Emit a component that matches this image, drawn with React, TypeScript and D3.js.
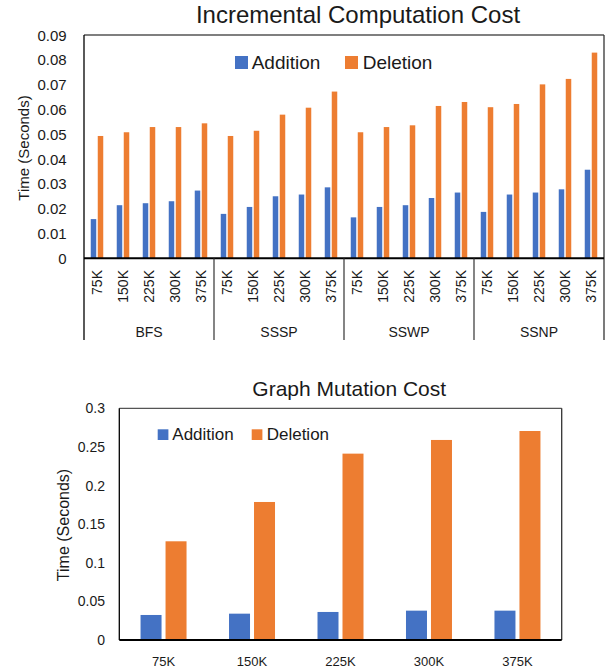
import React from "react"
import * as d3 from "d3"

// values
const groups = ["BFS", "SSSP", "SSWP", "SSNP"]
const sizes = ["75K", "150K", "225K", "300K", "375K"]
const series = ["Addition", "Deletion"]

// incremental computation cost, 5 sizes per algorithm (BFS, SSSP, SSWP, SSNP)
const incAddition = [
  0.0158, 0.0214, 0.0222, 0.023, 0.0273,
  0.0179, 0.0207, 0.025, 0.0257, 0.0286,
  0.0165, 0.0207, 0.0214, 0.0243, 0.0265,
  0.0187, 0.0257, 0.0265, 0.0278, 0.0357,
]
const incDeletion = [
  0.0493, 0.0508, 0.0529, 0.0529, 0.0544,
  0.0493, 0.0514, 0.0579, 0.0607, 0.0672,
  0.0508, 0.0529, 0.0536, 0.0614, 0.063,
  0.0609, 0.0622, 0.0701, 0.0723, 0.0829,
]
const incTicks = [0, 0.01, 0.02, 0.03, 0.04, 0.05, 0.06, 0.07, 0.08, 0.09]

// graph mutation cost
const mutAddition = [0.0324, 0.0341, 0.0363, 0.038, 0.038]
const mutDeletion = [0.1278, 0.1787, 0.2413, 0.259, 0.2706]
const mutTicks = [0, 0.05, 0.1, 0.15, 0.2, 0.25, 0.3]

const BLUE = "#4472C4"
const ORANGE = "#ED7D31"
const FONT = "'Liberation Sans', Arial, sans-serif"
const TXT = "#1a1a1a"

function IncrementalChart() {
  const m = { left: 84, right: 604, top: 35, bottom: 258.3 }
  const keys = groups.flatMap((g) => sizes.map((s) => `${g}-${s}`))
  const x = d3.scaleBand().domain(keys).range([m.left, m.right])
  const inner = d3
    .scaleBand()
    .domain(series)
    .range([0, x.bandwidth()])
    .paddingInner(0.214)
    .paddingOuter(0.964)
  const y = d3.scaleLinear().domain([0, 0.09]).range([m.bottom, m.top])
  const vals = [incAddition, incDeletion]
  const colors = [BLUE, ORANGE]

  return (
    <g fontFamily={FONT} fill={TXT}>
      <text x={358} y={23.3} fontSize={24} textAnchor="middle">
        Incremental Computation Cost
      </text>
      {/* box */}
      <line x1={m.left} x2={m.right} y1={m.top} y2={m.top} stroke="#555" strokeWidth={1.3} />
      <line x1={m.right} x2={m.right} y1={m.top} y2={340} stroke="#333" strokeWidth={1.3} />
      <line x1={m.left} x2={m.left} y1={m.top} y2={340} stroke="#000" strokeWidth={1.3} />
      {/* bars */}
      {series.map((s, si) =>
        keys.map((k, i) => (
          <rect
            key={s + k}
            x={(x(k) ?? 0) + (inner(s) ?? 0)}
            y={y(vals[si][i])}
            width={inner.bandwidth()}
            height={m.bottom - y(vals[si][i])}
            fill={colors[si]}
          />
        ))
      )}
      <line x1={m.left} x2={m.right} y1={m.bottom} y2={m.bottom} stroke="#000" strokeWidth={2} />
      {/* y ticks */}
      {incTicks.map((t) => (
        <text key={t} x={66.7} y={y(t)} fontSize={15} textAnchor="end" dominantBaseline="central">
          {t === 0 ? "0" : t.toFixed(2)}
        </text>
      ))}
      <text
        transform="translate(23,148) rotate(-90)"
        fontSize={15}
        textAnchor="middle"
        dominantBaseline="central"
      >
        Time (Seconds)
      </text>
      {/* size labels */}
      {keys.map((k) => (
        <text
          key={k}
          transform={`translate(${(x(k) ?? 0) + x.bandwidth() / 2},270) rotate(-90)`}
          fontSize={14}
          textAnchor="end"
          dominantBaseline="central"
        >
          {k.split("-")[1]}
        </text>
      ))}
      {/* group separators + labels */}
      {groups.map((g, gi) => {
        const x0 = x(`${g}-${sizes[0]}`) ?? 0
        const x1 = (x(`${g}-${sizes[sizes.length - 1]}`) ?? 0) + x.bandwidth()
        return (
          <g key={g}>
            {gi > 0 && <line x1={x0} x2={x0} y1={m.bottom} y2={340} stroke="#333" strokeWidth={1.2} />}
            <text x={(x0 + x1) / 2} y={331.7} fontSize={14} textAnchor="middle" dominantBaseline="central">
              {g}
            </text>
          </g>
        )
      })}
      {/* legend */}
      <rect x={235} y={56} width={13} height={13} fill={BLUE} />
      <text x={251.7} y={69} fontSize={19}>Addition</text>
      <rect x={345} y={56} width={13} height={13} fill={ORANGE} />
      <text x={362.7} y={69} fontSize={19}>Deletion</text>
    </g>
  )
}

function MutationChart() {
  const m = { left: 119.3, right: 561.7, top: 408.3, bottom: 640 }
  const x = d3.scaleBand().domain(sizes).range([m.left, m.right])
  const inner = d3
    .scaleBand()
    .domain(series)
    .range([0, x.bandwidth()])
    .paddingInner(0.16)
    .paddingOuter(0.85)
  const y = d3.scaleLinear().domain([0, 0.3]).range([m.bottom, m.top])
  const vals = [mutAddition, mutDeletion]
  const colors = [BLUE, ORANGE]

  return (
    <g fontFamily={FONT} fill={TXT}>
      <text x={349.2} y={395.7} fontSize={21} textAnchor="middle">
        Graph Mutation Cost
      </text>
      <line x1={m.left} x2={m.right} y1={m.top} y2={m.top} stroke="#555" strokeWidth={1.3} />
      <line x1={m.right} x2={m.right} y1={m.top} y2={m.bottom} stroke="#333" strokeWidth={1.3} />
      <line x1={m.left} x2={m.left} y1={m.top} y2={m.bottom} stroke="#000" strokeWidth={1.3} />
      {series.map((s, si) =>
        sizes.map((k, i) => (
          <rect
            key={s + k}
            x={(x(k) ?? 0) + (inner(s) ?? 0)}
            y={y(vals[si][i])}
            width={inner.bandwidth()}
            height={m.bottom - y(vals[si][i])}
            fill={colors[si]}
          />
        ))
      )}
      <line x1={m.left} x2={m.right} y1={m.bottom} y2={m.bottom} stroke="#000" strokeWidth={2} />
      {mutTicks.map((t) => (
        <text key={t} x={105} y={y(t)} fontSize={14} textAnchor="end" dominantBaseline="central">
          {String(t)}
        </text>
      ))}
      <text
        transform="translate(63,525) rotate(-90)"
        fontSize={16}
        textAnchor="middle"
        dominantBaseline="central"
      >
        Time (Seconds)
      </text>
      {sizes.map((k) => (
        <text
          key={k}
          x={(x(k) ?? 0) + x.bandwidth() / 2}
          y={661.7}
          fontSize={13}
          textAnchor="middle"
          dominantBaseline="central"
        >
          {k}
        </text>
      ))}
      <rect x={157.7} y={429.3} width={10.7} height={10.7} fill={BLUE} />
      <text x={172.3} y={440} fontSize={17}>Addition</text>
      <rect x={251.7} y={429.3} width={10.7} height={10.7} fill={ORANGE} />
      <text x={266.7} y={440} fontSize={17}>Deletion</text>
    </g>
  )
}

export default function App() {
  return (
    <div style={{ position: "absolute", left: 0, top: 0 }}>
      <svg width={609} height={672} style={{ display: "block", background: "#fff" }}>
        <IncrementalChart />
        <MutationChart />
      </svg>
    </div>
  )
}
